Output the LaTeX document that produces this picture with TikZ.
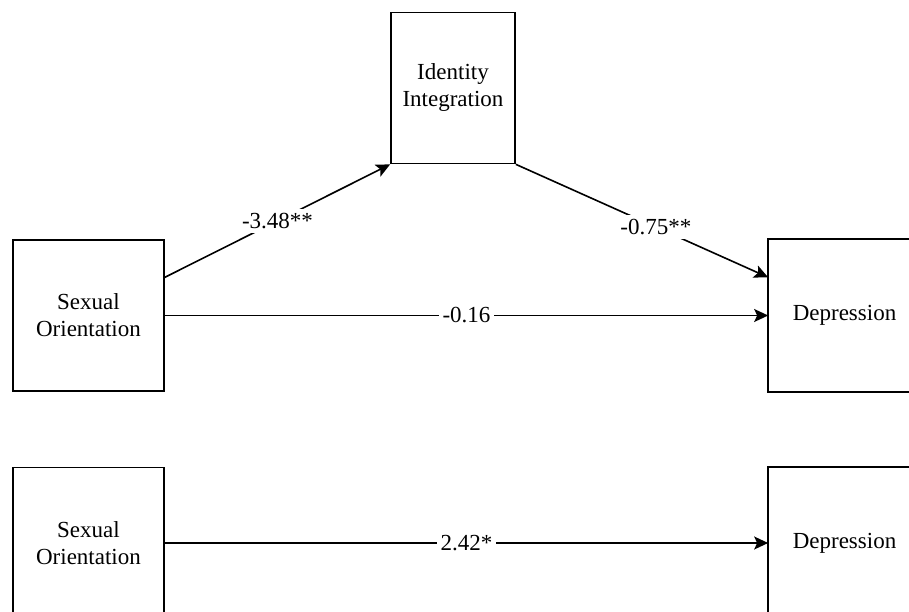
\documentclass[tikz,border=0pt]{standalone}
\usepackage{fontspec}
\setmainfont{Liberation Serif}
\usetikzlibrary{arrows.meta,calc}
\begin{document}
\begin{tikzpicture}[x=1pt,y=-1pt,
  box/.style={draw=black,line width=1.7pt,fill=white,rectangle,inner sep=0pt,
    align=center,font=\fontsize{23}{27}\selectfont},
  openbox/.style={box,draw=none,fill=none},
  edgeline/.style={line width=1.7pt,line cap=rect},
  conn/.style={line width=1.6pt,-{Stealth[length=14pt,width=13pt,inset=3pt]}},
  lab/.style={fill=white,inner sep=4pt,font=\fontsize{23}{27}\selectfont}]
\useasboundingbox (0,0) rectangle (909,612);
\fill[white] (0,0) rectangle (909,612);
\node[box,minimum width=151pt,minimum height=151pt] (so1) at (88.5,315.5) {Sexual\\Orientation};
\node[box,minimum width=124pt,minimum height=151pt] (ii) at (453,88) {Identity\\Integration};
\node[openbox,minimum width=151pt,minimum height=151pt] (d1) at (844.5,315.5) {Depression};
\node[box,minimum width=151pt,minimum height=151pt] (so2) at (88.5,543) {Sexual\\Orientation};
\node[openbox,minimum width=151pt,minimum height=151pt] (d2) at (844.5,543) {Depression};
\draw[edgeline] (d1.north east) -- (d1.north west) -- (d1.south west) -- (d1.south east);
\draw[edgeline] (d2.north east) -- (d2.north west) -- (d2.south west) -- (d2.south east);
\coordinate (s1) at ($(so1.north east)!0.25!(so1.south east)$);
\coordinate (t1) at ($(d1.north west)!0.25!(d1.south west)$);
\draw[conn] (s1) -- node[lab,pos=0.5] {-3.48**} (ii.south west);
\draw[conn] (ii.south east) -- node[lab,pos=0.555] {-0.75**} (t1);
\draw[conn] (so1.east) -- node[lab] {-0.16} (d1.west);
\draw[conn] (so2.east) -- node[lab] {2.42*} (d2.west);
\end{tikzpicture}
\end{document}
